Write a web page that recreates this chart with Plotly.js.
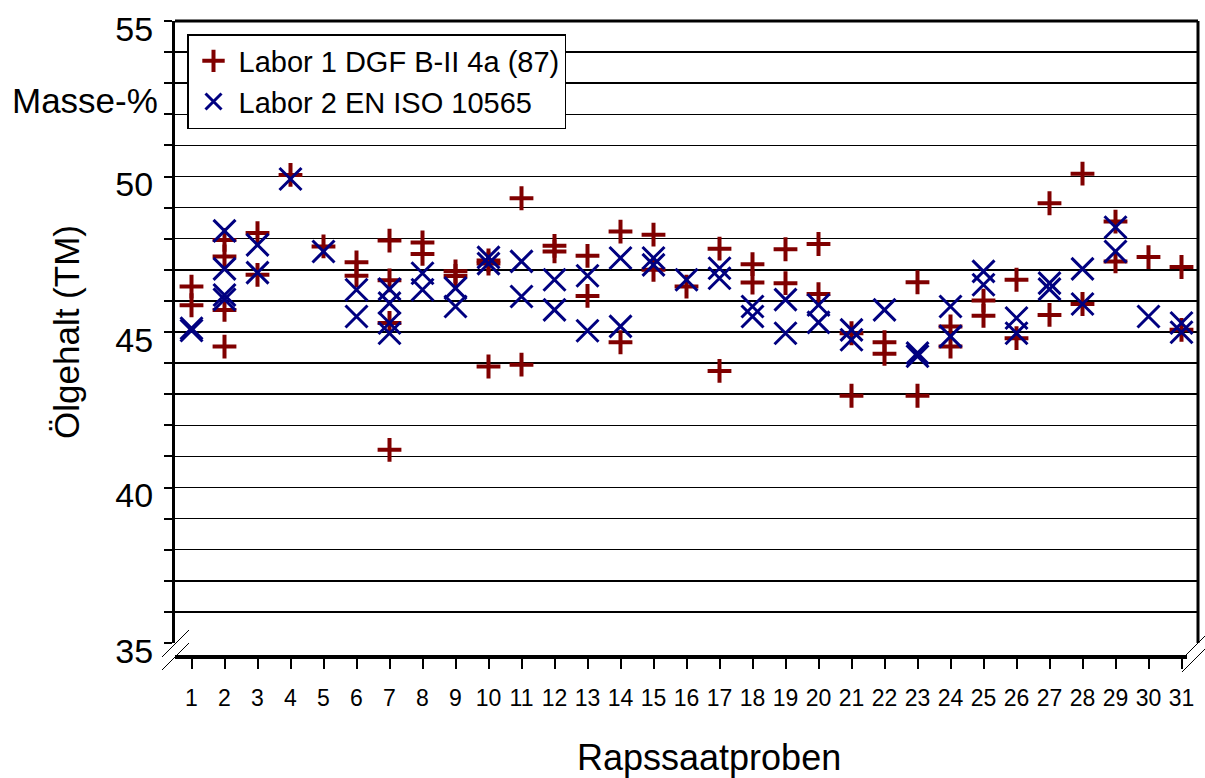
<!DOCTYPE html>
<html>
<head>
<meta charset="utf-8">
<script src="https://cdn.plot.ly/plotly-3.0.1.min.js"></script>
<style>html,body{margin:0;padding:0;background:#fff;}#chart{width:1205px;height:778px;}</style>
</head>
<body>
<div id="chart"></div>
<script>
// Sample numbers (categories on the x axis)
const samples = [1,2,3,4,5,6,7,8,9,10,11,12,13,14,15,16,17,18,19,20,21,22,23,24,25,26,27,28,29,30,31];
const sampleLabels = samples.map(String);

// Labor 1 DGF B-II 4a (87): replicate results per sample (Masse-%)
const lab1Values = [
  [46.46, 45.86],
  [47.96, 47.43, 45.71, 44.53],
  [48.18, 46.84],
  [50.05],
  [47.75],
  [47.24, 46.81],
  [47.94, 46.66, 45.29, 41.21],
  [47.88, 47.51],
  [46.95, 46.80],
  [47.30, 47.20, 43.89],
  [49.30, 43.95],
  [47.77, 47.59],
  [47.45, 46.16],
  [48.23, 44.67],
  [48.13, 47.00],
  [46.46],
  [47.68, 43.75],
  [47.18, 46.59],
  [47.66, 46.57],
  [47.83, 46.22],
  [44.96, 42.95],
  [44.67, 44.30],
  [46.60, 42.95],
  [45.18, 44.53],
  [46.01, 45.52],
  [46.68, 44.80],
  [49.14, 45.55],
  [50.09, 45.90],
  [48.55, 47.27],
  [47.41],
  [47.09, 45.07]
];

// Labor 2 EN ISO 10565: replicate results per sample (Masse-%)
const lab2Values = [
  [45.12, 45.05],
  [48.25, 47.03, 46.19, 46.05],
  [47.80, 46.91],
  [49.92],
  [47.59],
  [46.36, 45.50],
  [46.38, 45.93, 45.29, 44.96],
  [46.89, 46.36],
  [46.41, 45.82],
  [47.40, 47.20],
  [47.27, 46.14],
  [46.68, 45.71],
  [46.81, 45.04],
  [47.38, 45.18],
  [47.38, 47.16],
  [46.68],
  [47.05, 46.73],
  [45.82, 45.50],
  [46.04, 44.96],
  [45.87, 45.31],
  [45.07, 44.75],
  [45.71],
  [44.32, 44.22],
  [45.82, 44.86],
  [46.95, 46.52],
  [45.45, 44.96],
  [46.57, 46.38],
  [47.03, 45.90],
  [48.37, 47.59],
  [45.50],
  [45.29, 44.99]
];

const seriesNames = ['Labor 1 DGF B-II 4a (87)', 'Labor 2 EN ISO 10565'];
const yTicks = [35, 40, 45, 50, 55];

function flatten(groups) {
  const xs = [], ys = [];
  groups.forEach((vals, i) => vals.forEach(v => { xs.push(samples[i]); ys.push(v); }));
  return {xs, ys};
}
const d1 = flatten(lab1Values);
const d2 = flatten(lab2Values);

const FONT = 'Liberation Sans, Arial, sans-serif';

const traces = [
  {
    type: 'scatter', mode: 'markers', name: seriesNames[0],
    x: d1.xs, y: d1.ys,
    marker: {symbol: 'cross-thin-open', size: 17, color: '#800000', line: {color: '#800000', width: 4}},
    cliponaxis: false
  },
  {
    type: 'scatter', mode: 'markers', name: seriesNames[1],
    x: d2.xs, y: d2.ys,
    marker: {symbol: 'x-thin-open', size: 22, color: '#000080', line: {color: '#000080', width: 3}},
    cliponaxis: false
  }
];

const L = 175, R = 7, T = 21, B = 121, W = 1205, H = 778;
const pw = W - L - R, ph = H - T - B;
const px = v => (v - L) / pw;          // pixel -> paper x
const py = v => (H - B - v) / ph;      // pixel -> paper y

const lineStyle = {color: '#000', width: 1};
const shapes = [
  // top frame line at 55
  {type: 'line', xref: 'paper', yref: 'paper', x0: 0, x1: 1, y0: 1, y1: 1, line: {color: '#000', width: 3}},
  // right frame line
  {type: 'line', xref: 'paper', yref: 'paper', x0: 1, x1: 1, y0: py(643), y1: 1, line: {color: '#000', width: 3}},
  // detached x axis line
  {type: 'line', xref: 'paper', yref: 'paper', x0: 0, x1: px(1187), y0: 0, y1: 0, line: {color: '#000', width: 4}},
  // axis break marks, left
  {type: 'line', xref: 'paper', yref: 'paper', x0: px(162), y0: py(657), x1: px(189), y1: py(630), line: lineStyle},
  {type: 'line', xref: 'paper', yref: 'paper', x0: px(162), y0: py(670), x1: px(189), y1: py(643), line: lineStyle},
  // axis break marks, right
  {type: 'line', xref: 'paper', yref: 'paper', x0: px(1184), y0: py(657), x1: px(1211), y1: py(630), line: lineStyle},
  {type: 'line', xref: 'paper', yref: 'paper', x0: px(1182), y0: py(672), x1: px(1209), y1: py(645), line: lineStyle}
];

const layout = {
  width: W, height: H,
  margin: {l: L, r: R, t: T, b: B, pad: 0},
  paper_bgcolor: '#fff', plot_bgcolor: '#fff',
  font: {family: FONT, color: '#000', size: 22},
  showlegend: true,
  legend: {
    x: px(187), y: py(34), xanchor: 'left', yanchor: 'top',
    bgcolor: '#fff', bordercolor: '#000', borderwidth: 1.5,
    font: {family: FONT, size: 29, color: '#000'},
    itemwidth: 40, tracegroupgap: 0
  },
  xaxis: {
    range: [0.5, 31.5],
    anchor: 'free', position: 0,
    tickmode: 'array', tickvals: samples, ticktext: sampleLabels,
    ticks: 'outside', ticklen: 11, tickwidth: 2, tickcolor: '#000',
    ticklabelstandoff: 9,
    tickfont: {family: FONT, size: 23, color: '#000'},
    showgrid: false, zeroline: false, showline: false,
    fixedrange: true
  },
  yaxis: {
    domain: [py(643), 1],
    range: [35, 55],
    tickmode: 'array', tickvals: yTicks,
    ticks: 'outside', ticklen: 8, tickwidth: 2, tickcolor: '#000',
    ticklabelshift: 8, ticklabelstandoff: 4, ticklabeloverflow: 'allow',
    tickfont: {family: FONT, size: 34, color: '#000'},
    showgrid: true, gridcolor: '#000', gridwidth: 1.5,
    minor: {dtick: 1, ticks: 'outside', ticklen: 8, tickwidth: 2, tickcolor: '#000', showgrid: true, gridcolor: '#000', gridwidth: 1.5},
    showline: true, linewidth: 3, linecolor: '#000',
    zeroline: false,
    title: {text: 'Ölgehalt (TM)', font: {family: FONT, size: 35, color: '#000'}, standoff: 26},
    fixedrange: true
  },
  shapes: shapes,
  annotations: [
    {text: 'Masse-%', xref: 'paper', yref: 'paper', x: px(160), y: py(100), xanchor: 'right', yanchor: 'middle',
     showarrow: false, font: {family: FONT, size: 35, color: '#000'}},
    {text: 'Rapssaatproben', xref: 'paper', yref: 'paper', x: px(709), y: py(758), xanchor: 'center', yanchor: 'middle',
     showarrow: false, font: {family: FONT, size: 36, color: '#000'}}
  ]
};

Plotly.newPlot('chart', traces, layout, {displayModeBar: false, staticPlot: true});
</script>
</body>
</html>
